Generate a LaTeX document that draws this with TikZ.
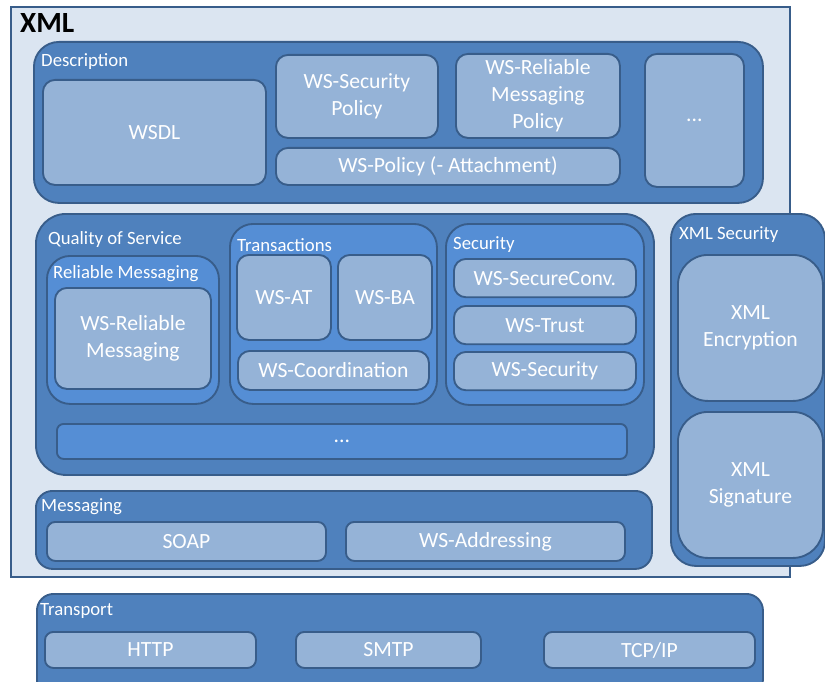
\documentclass[tikz,border=0pt]{standalone}
\usepackage{fontspec}
\setmainfont{Carlito}
\usepackage{tikz}

\definecolor{outerfill}{HTML}{DBE5F1}
\definecolor{edge}{HTML}{385D8A}
\definecolor{groupfill}{HTML}{4F81BD}
\definecolor{subfill}{HTML}{558ED5}
\definecolor{itemfill}{HTML}{95B3D7}

\begin{document}
\begin{tikzpicture}[x=0.03cm,y=-0.03cm,
	sz/.style 2 args={minimum width=#1cm,minimum height=#2cm,anchor=north west,inner sep=0},
	group/.style={draw=edge,fill=groupfill,line width=1.6pt,rounded corners=0.75cm},
	subgroup/.style={draw=edge,fill=subfill,line width=1.6pt,rounded corners=0.7cm},
	item/.style={draw=edge,fill=itemfill,line width=1.6pt,rounded corners=0.36cm,text=white,align=center,font=\fontsize{18.5}{23}\selectfont},
	grouplabel/.style={anchor=west,inner sep=0,text=white,font=\fontsize{16}{18}\selectfont}]
	\useasboundingbox (0,0) rectangle (825,681);
	\clip (0,0) rectangle (825,681);

	%outer XML frame
	\node[sz={23.37}{17.1},draw=edge,fill=outerfill,line width=1.6pt] (xml) at (10,6) {};
	\node[anchor=west,inner sep=0,font=\fontsize{25}{27}\selectfont\bfseries] (xmllbl) at (20,23) {XML};

	%Description
	\node[group,sz={21.87}{4.83}] (desc) at (33,41) {};
	\node[grouplabel] (desclbl) at (41,62) {Description};
	\node[item,sz={6.69}{3.15}] (wsdl) at (42,79) {WSDL};
	\node[item,sz={4.86}{2.49}] (secpol) at (275,54) {WS-Security\\Policy};
	\node[item,sz={4.92}{2.52}] (rmpol) at (455,53) {WS-Reliable\\Messaging\\Policy};
	\node[item,sz={10.32}{1.11}] (policy) at (275,147) {WS-Policy (- Attachment)};
	\node[item,sz={2.97}{3.99}] (descmore) at (644,53) {...};

	%Quality of Service
	\node[group,rounded corners=0.9cm,sz={18.54}{7.83}] (qos) at (35,213) {};
	\node[grouplabel] (qoslbl) at (48,240) {Quality of Service};

	\node[subgroup,sz={5.16}{4.44}] (rm) at (46,255) {};
	\node[grouplabel] (rmlbl) at (53,274) {Reliable Messaging};
	\node[item,sz={4.68}{3.03}] (wsrm) at (54,287) {WS-Reliable\\Messaging};

	\node[subgroup,sz={6.21}{5.4}] (trans) at (229,223) {};
	\node[grouplabel] (translbl) at (237,245) {Transactions};
	\node[item,sz={2.82}{2.55}] (wsat) at (236,254) {WS-AT};
	\node[item,sz={2.82}{2.55}] (wsba) at (337,254) {WS-BA};
	\node[item,sz={5.73}{1.17}] (coord) at (237,350) {WS-Coordination};

	\node[subgroup,sz={5.94}{5.43}] (sec) at (445,223) {};
	\node[grouplabel] (seclbl) at (453,245) {Security};
	\foreach \n/\y/\t in {secconv/258/WS-SecureConv.,trust/305/WS-Trust,wssec/351/WS-Security}{
		\node[item,sz={5.46}{1.15}] (\n) at (453,\y) {\t};
	}

	\node[item,fill=subfill,rounded corners=0.2cm,sz={17.1}{1.05}] (qosmore) at (56,423) {...};

	%Messaging
	\node[group,rounded corners=0.5cm,sz={18.48}{2.34}] (msg) at (35,490) {};
	\node[grouplabel] (msglbl) at (41,507) {Messaging};
	\node[item,rounded corners=0.25cm,sz={8.37}{1.17}] (soap) at (46,521) {SOAP};
	\node[item,rounded corners=0.25cm,sz={8.37}{1.17}] (addr) at (345,521) {WS-Addressing};

	%XML Security
	\node[group,sz={4.62}{10.56}] (xmlsec) at (670,213) {};
	\node[grouplabel] (xmlseclbl) at (679,235) {XML Security};
	\node[item,rounded corners=0.9cm,sz={4.35}{4.38}] (enc) at (677,254) {XML\\Encryption};
	\node[item,rounded corners=0.9cm,sz={4.35}{4.38}] (sig) at (677,411) {XML\\Signature};

	%Transport
	\node[group,rounded corners=0.5cm,sz={21.78}{3.06}] (transport) at (36,593) {};
	\node[grouplabel] (transportlbl) at (40,611) {Transport};
	\foreach \n/\x/\w/\t in {http/44/6.33/HTTP,smtp/295/5.55/SMTP,tcp/543/6.33/{TCP/IP}}{
		\node[item,rounded corners=0.25cm,sz={\w}{1.08}] (\n) at (\x,631) {\t};
	}
\end{tikzpicture}
\end{document}
